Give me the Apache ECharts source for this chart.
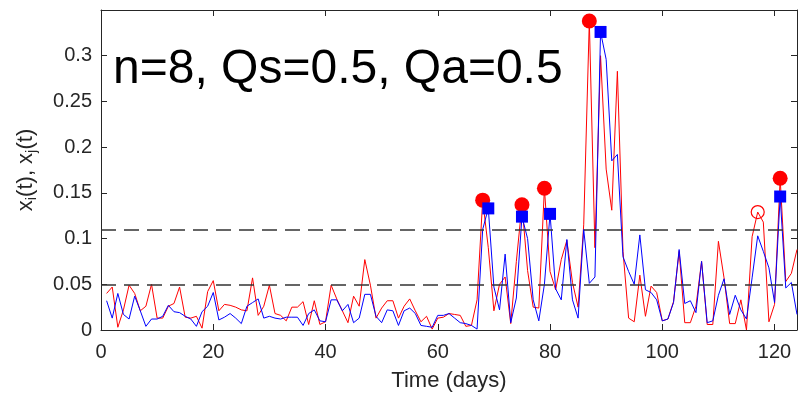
<!DOCTYPE html>
<html>
<head>
<meta charset="utf-8">
<script src="https://cdn.jsdelivr.net/npm/echarts@6/dist/echarts.min.js"></script>
<style>html,body{margin:0;padding:0;background:#fff}#c{width:801px;height:397px}</style>
</head>
<body>
<div id="c"></div>
<script>
// Days 1..124
const days = Array.from({length: 124}, (_, i) => i + 1);
// x_i(t), red
const redVals = [
0.040,0.047,0.003,0.022,0.049,0.040,0.021,0.026,0.050,0.013,
0.013,0.026,0.029,0.047,0.014,0.013,0.015,0.002,0.042,0.054,
0.021,0.028,0.027,0.025,0.022,0.021,0.057,0.016,0.026,0.049,
0.018,0.016,0.010,0.025,0.025,0.031,0.006,0.032,0.006,0.009,
0.049,0.034,0.021,0.008,0.037,0.026,0.077,0.049,0.013,0.024,
0.032,0.032,0.013,0.026,0.034,0.021,0.009,0.015,0.001,0.013,
0.014,0.018,0.017,0.016,0.004,0.005,0.033,0.142,0.090,0.021,
0.050,0.058,0.007,0.075,0.137,0.065,0.025,0.024,0.155,0.064,
0.044,0.077,0.098,0.052,0.025,0.115,0.338,0.090,0.300,0.176,
0.131,0.283,0.086,0.013,0.009,0.060,0.015,0.048,0.041,0.010,
0.012,0.031,0.086,0.008,0.008,0.026,0.075,0.006,0.006,0.097,
0.057,0.007,0.007,0.033,0.000,0.102,0.129,0.118,0.009,0.028,
0.166,0.053,0.062,0.088
];
// x_j(t), blue
const blueVals = [
0.032,0.013,0.040,0.017,0.012,0.037,0.021,0.004,0.012,0.012,
0.015,0.027,0.020,0.019,0.015,0.012,0.004,0.020,0.026,0.041,
0.011,0.014,0.018,0.013,0.007,0.026,0.030,0.034,0.013,0.015,
0.013,0.012,0.014,0.014,0.014,0.005,0.018,0.022,0.010,0.009,
0.033,0.033,0.021,0.028,0.008,0.013,0.039,0.039,0.015,0.008,
0.022,0.021,0.005,0.021,0.024,0.018,0.005,0.004,0.003,0.016,
0.016,0.018,0.013,0.008,0.007,0.005,0.001,0.110,0.133,0.047,
0.022,0.083,0.008,0.035,0.124,0.100,0.033,0.010,0.050,0.127,
0.045,0.033,0.099,0.033,0.013,0.110,0.051,0.058,0.326,0.296,
0.185,0.192,0.080,0.064,0.050,0.104,0.044,0.041,0.033,0.010,
0.012,0.030,0.088,0.029,0.032,0.019,0.075,0.008,0.010,0.038,
0.056,0.017,0.038,0.022,0.012,0.057,0.103,0.086,0.068,0.030,
0.146,0.046,0.052,0.017
];
const redPeakDays = [68, 75, 79, 87, 121];
const redOpenDays = [117];
const bluePeakDays = [69, 75, 80, 89, 121];
const thresholds = [0.05, 0.11];
const xTicks = [0, 20, 40, 60, 80, 100, 120];
const yTicks = [0, 0.05, 0.1, 0.15, 0.2, 0.25, 0.3];
const annotation = 'n=8, Qs=0.5, Qa=0.5';

const pair = (arr) => days.map((d, i) => [d, arr[i]]);
const pick = (arr, ds) => ds.map(d => [d, arr[d - 1]]);

const axisCol = '#262626';
const font = 'Liberation Sans, Arial, sans-serif';

const chart = echarts.init(document.getElementById('c'), null, {renderer: 'canvas'});
const baseX = {
  type: 'value', min: 0, max: 124, interval: 20,
  axisLine: {show: true, onZero: false, lineStyle: {color: axisCol, width: 1}},
  axisTick: {show: true, inside: true, length: 6, lineStyle: {color: axisCol}},
  splitLine: {show: false}
};
const baseY = {
  type: 'value', min: 0, max: 0.35, interval: 0.05,
  axisLine: {show: true, onZero: false, lineStyle: {color: axisCol, width: 1}},
  axisTick: {show: true, inside: true, length: 6, lineStyle: {color: axisCol}},
  splitLine: {show: false}
};
const fmtX = v => xTicks.includes(v) ? String(v) : '';
const fmtY = v => yTicks.some(t => Math.abs(t - v) < 1e-9) ? String(+v.toFixed(2)) : '';

chart.setOption({
  animation: false,
  backgroundColor: '#fff',
  grid: {left: 101, right: 4, top: 10, bottom: 65, containLabel: false},
  xAxis: [
    Object.assign({}, baseX, {
      position: 'bottom',
      name: 'Time (days)', nameLocation: 'middle', nameGap: 40,
      nameTextStyle: {color: axisCol, fontSize: 22, fontFamily: font},
      axisLabel: {show: true, formatter: fmtX, color: axisCol, fontSize: 20, fontFamily: font, margin: 12}
    }),
    Object.assign({}, baseX, {position: 'top', axisLabel: {show: false}})
  ],
  yAxis: [
    Object.assign({}, baseY, {
      position: 'left',
      name: 'x{sub|i}(t), x{sub|j}(t)', nameLocation: 'middle', nameGap: 62,
      nameTextStyle: {color: axisCol, fontSize: 22, fontFamily: font,
        rich: {sub: {fontSize: 15, fontFamily: font, color: axisCol, padding: [11, 0, 0, 0]}}},
      axisLabel: {show: true, formatter: fmtY, color: axisCol, fontSize: 20, fontFamily: font, margin: 9}
    }),
    Object.assign({}, baseY, {position: 'right', axisLabel: {show: false}})
  ],
  graphic: [{
    type: 'text', left: 113, top: 46, z: 100,
    style: {text: annotation, font: '48px ' + font, fill: '#000'}
  }],
  series: [
    {
      type: 'line', data: pair(redVals), showSymbol: false, symbol: 'none',
      lineStyle: {color: '#ff0000', width: 1}, z: 2,
      markLine: {
        silent: true, symbol: 'none', label: {show: false},
        lineStyle: {color: '#333', type: [15, 8], width: 1.6},
        data: thresholds.map(t => ({yAxis: t}))
      }
    },
    {
      type: 'line', data: pair(blueVals), showSymbol: false, symbol: 'none',
      lineStyle: {color: '#0000ff', width: 1}, z: 3
    },
    {
      type: 'scatter', data: pick(redVals, redPeakDays), symbol: 'circle', symbolSize: 15,
      itemStyle: {color: '#ff0000', opacity: 1}, z: 5
    },
    {
      type: 'scatter', data: pick(redVals, redOpenDays), symbol: 'circle', symbolSize: 13,
      itemStyle: {color: 'rgba(0,0,0,0)', borderColor: '#ff0000', borderWidth: 1.2, opacity: 1}, z: 5
    },
    {
      type: 'scatter', data: pick(blueVals, bluePeakDays), symbol: 'rect', symbolSize: 12,
      itemStyle: {color: '#0000ff', opacity: 1}, z: 6
    }
  ]
});
</script>
</body>
</html>
